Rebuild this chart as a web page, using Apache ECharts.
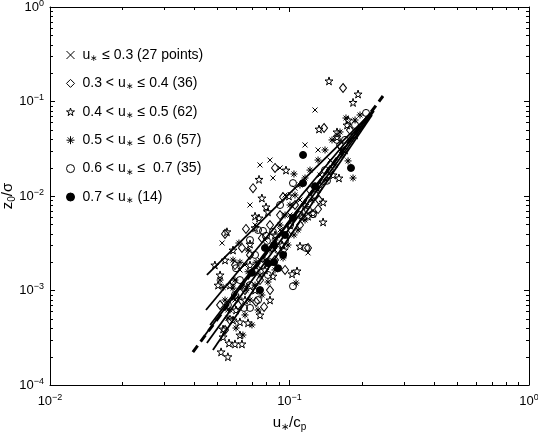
<!DOCTYPE html>
<html><head><meta charset="utf-8">
<script src="https://cdn.jsdelivr.net/npm/echarts@6/dist/echarts.min.js"></script>
<style>html,body{margin:0;padding:0;background:#fff}#c{width:538px;height:434px}</style>
</head><body><div id="c"></div>
<script>
// axis ranges and tick values
const xMin = 0.01, xMax = 1, yMin = 1e-4, yMax = 1;
const minorMult = [2, 3, 4, 5, 6, 7, 8, 9];
const xDecades = [0.01, 0.1];
const yDecades = [1e-4, 1e-3, 1e-2, 1e-1];

// legend labels
const groupNames = ['g1', 'g2', 'g3', 'g4', 'g5', 'g6'];
const groupLabels = [
  '{t|u}{st|∗}{t| ≤ 0.3 (27 points)}',
  '{t|0.3 < u}{st|∗}{t| ≤ 0.4 (36)}',
  '{t|0.4 < u}{st|∗}{t| ≤ 0.5 (62)}',
  '{t|0.5 < u}{st|∗}{t| ≤  0.6 (57)}',
  '{t|0.6 < u}{st|∗}{t| ≤  0.7 (35)}',
  '{t|0.7 < u}{st|∗}{t| (14)}'
];

// u* <= 0.3  (crosses)
const crossPts = [
  [0.1278,0.0813],[0.1161,0.0347],[0.1316,0.0307],[0.0753,0.0213],[0.0829,0.0240],
  [0.0913,0.0198],[0.0853,0.0155],[0.0684,0.00803],[0.0523,0.00318],[0.1195,0.00250],
  [0.0718,0.00493],[0.0790,0.00342],[0.0621,0.00165],[0.0671,0.00114],[0.0592,0.000793],
  [0.0753,0.00210],[0.0913,0.00437],[0.1005,0.00629],[0.1106,0.00907],[0.1476,0.0240],
  [0.1625,0.0307],[0.0553,0.000622],[0.0652,0.00186],[0.0870,0.00268],[0.0958,0.01024],
  [0.1054,0.0121],[0.1341,0.0167]
];
// 0.3 < u* <= 0.4 (diamonds)
const diamondPts = [
  [0.1673,0.139],[0.1394,0.0524],[0.0870,0.0198],[0.0704,0.0121],[0.0940,0.00975],
  [0.1328,0.00907],[0.1316,0.00728],[0.0538,0.00397],[0.0658,0.00448],[0.0513,0.000702],
  [0.0783,0.000670],[0.0725,0.000757],[0.1195,0.00282],[0.0592,0.00186],[0.0684,0.00238],
  [0.0829,0.00493],[0.0913,0.00629],[0.1054,0.00803],[0.0753,0.00129],[0.0652,0.00101],
  [0.0564,0.000487],[0.0718,0.00165],[0.0870,0.00210],[0.0986,0.00387],[0.1106,0.00493],
  [0.1218,0.01156],[0.1476,0.0188],[0.1625,0.0347],[0.1789,0.0499],[0.0581,0.00123],
  [0.0633,0.00282],[0.0767,0.00358],[0.0829,0.00101],[0.0958,0.00165],[0.0538,0.000382],
  [0.0610,0.000702]
];
// 0.4 < u* <= 0.5 (stars)
const starPts = [
  [0.1462,0.165],[0.1933,0.120],[0.1842,0.0978],[0.1756,0.0637],[0.1739,0.0564],
  [0.1328,0.0511],[0.1579,0.0476],[0.1579,0.0421],[0.0967,0.0188],[0.0746,0.0150],
  [0.1520,0.0167],[0.1609,0.0155],[0.0767,0.00952],[0.0798,0.00766],[0.0813,0.00680],
  [0.0995,0.00999],[0.1381,0.00862],[0.1128,0.00598],[0.1195,0.00611],[0.1254,0.00660],
  [0.1381,0.00531],[0.0718,0.00611],[0.0746,0.00585],[0.0548,0.00418],[0.0718,0.00461],
  [0.0581,0.00268],[0.0684,0.00310],[0.0931,0.00303],[0.0949,0.00268],[0.1106,0.00295],
  [0.1025,0.00150],[0.1075,0.00161],[0.0853,0.00142],[0.0518,0.000224],[0.0553,0.000199],
  [0.0559,0.000278],[0.0592,0.000272],[0.0633,0.000272],[0.0528,0.000323],[0.0528,0.000391],
  [0.0581,0.000487],[0.0621,0.000465],[0.0671,0.000455],[0.0488,0.00186],[0.0513,0.00146],
  [0.0538,0.00210],[0.0564,0.00114],[0.0652,0.000793],[0.0718,0.00101],[0.0790,0.00165],
  [0.0870,0.00387],[0.1005,0.00493],[0.1161,0.00803],[0.1341,0.01307],[0.1705,0.0307],
  [0.1878,0.0442],[0.0503,0.00114],[0.0598,0.000622],[0.0753,0.000551],[0.0829,0.000793],
  [0.0684,0.00186],[0.0621,0.000338]
];
// 0.5 < u* <= 0.6 (asterisks)
const asteriskPts = [
  [0.1756,0.0235],[0.1842,0.0155],[0.1044,0.0171],[0.1044,0.00387],[0.0581,0.00210],
  [0.0621,0.00199],[0.0513,0.00129],[0.0528,0.00108],[0.0581,0.00106],[0.0615,0.000833],
  [0.0592,0.00129],[0.0671,0.00268],[0.0615,0.00318],[0.1065,0.00120],[0.1721,0.0669],
  [0.0538,0.000793],[0.0564,0.000622],[0.0652,0.000551],[0.0684,0.000793],[0.0718,0.00114],
  [0.0753,0.00146],[0.0790,0.00210],[0.0829,0.00268],[0.0870,0.00342],[0.0913,0.00493],
  [0.0958,0.00629],[0.1005,0.00803],[0.1054,0.01024],[0.1106,0.01307],[0.1161,0.0155],
  [0.1218,0.0188],[0.1316,0.0240],[0.1407,0.0307],[0.1505,0.0392],[0.1625,0.0476],
  [0.1878,0.0637],[0.1970,0.0720],[0.0553,0.000510],[0.0598,0.000401],[0.0639,0.000338],
  [0.0697,0.000432],[0.0739,0.000622],[0.0767,0.000896],[0.0813,0.00123],[0.0870,0.00165],
  [0.0940,0.00221],[0.0986,0.00303],[0.1085,0.00437],[0.1161,0.00557],[0.1242,0.00907],
  [0.1316,0.01156],[0.1421,0.01476],[0.1549,0.0213],[0.1657,0.0272],[0.0671,0.00158],
  [0.0725,0.00199],[0.0658,0.00101]
];
// 0.6 < u* <= 0.7 (open circles)
const openPts = [
  [0.2087,0.0757],[0.1579,0.0392],[0.1034,0.0137],[0.1434,0.0145],[0.0775,0.00427],
  [0.0739,0.00437],[0.0798,0.00379],[0.0805,0.00335],[0.0853,0.00418],[0.0646,0.000654],
  [0.0684,0.000654],[0.1195,0.00711],[0.1254,0.00642],[0.1034,0.00111],[0.1172,0.00282],
  [0.0684,0.00342],[0.0718,0.00238],[0.0767,0.00186],[0.0829,0.00199],[0.0896,0.00268],
  [0.0958,0.00342],[0.1005,0.00493],[0.1106,0.00629],[0.1278,0.01024],[0.1407,0.0188],
  [0.1705,0.0392],[0.0621,0.00129],[0.0684,0.00114],[0.0739,0.000793],[0.0592,0.000896],
  [0.0553,0.000702],[0.0813,0.00146],[0.0913,0.00803],[0.0598,0.00172],[0.1878,0.0564]
];
// 0.7 < u* (filled circles)
const filledPts = [
  [0.1139,0.0272],[0.1806,0.0198],[0.1139,0.0137],[0.1278,0.0127],[0.0790,0.00282],
  [0.0862,0.00303],[0.0896,0.00172],[0.0697,0.00154],[0.0753,0.00101],[0.0862,0.00199],
  [0.0813,0.00194],[0.1034,0.00585],[0.0958,0.00387],[0.0940,0.00238]
];

// fitted lines (end points)
const fit1 = [[0.0452,0.00146],[0.2128,0.0702]];
const fit2 = [[0.0448,0.000622],[0.2169,0.0755]];
const fit3 = [[0.0466,0.000431],[0.2211,0.0774]];
const fit4 = [[0.0444,0.000338],[0.2232,0.0813]];
const fit5 = [[0.0452,0.000278],[0.2253,0.0793]];
const fit6 = [[0.0479,0.000235],[0.2211,0.0720]];
const dashedFit = [[0.0395,0.000223],[0.2457,0.1143]];

const FONT = '"Liberation Sans", Arial, Helvetica, sans-serif';
const chart = echarts.init(document.getElementById('c'), null, {renderer: 'canvas'});

function expLabel(v) {
  const e = Math.round(Math.log10(v));
  return '{b|10}{s|' + (e < 0 ? '\u2212' + (-e) : String(e)) + '}';
}
const labelRich = {
  b: {fontSize: 13, fontFamily: FONT, color: '#000', lineHeight: 16},
  s: {fontSize: 9, fontFamily: FONT, color: '#000', verticalAlign: 'top'}
};
const nameRich = {
  i: {fontSize: 15, fontFamily: FONT, color: '#000', lineHeight: 18},
  sub: {fontSize: 10, fontFamily: FONT, color: '#000', verticalAlign: 'bottom'}
};

const hollow = 'rgba(255,255,255,0)';
const starPath = 'path://M50,0L61,35L98,35L68,57L79,91L50,70L21,91L32,57L2,35L39,35Z';
const crossPath = 'path://M0,0L10,10M10,0L0,10';
const astPath = 'path://M5,0L5,10M0,5L10,5M1.5,1.5L8.5,8.5M8.5,1.5L1.5,8.5';

const scatterDefs = [
  {data: crossPts, symbol: crossPath, size: 5, fill: hollow},
  {data: diamondPts, symbol: 'diamond', size: [7, 9], fill: hollow},
  {data: starPts, symbol: starPath, size: 8, fill: hollow},
  {data: asteriskPts, symbol: astPath, size: 7, fill: hollow},
  {data: openPts, symbol: 'circle', size: 7, fill: hollow},
  {data: filledPts, symbol: 'circle', size: 7, fill: '#000'}
];

const series = scatterDefs.map((d, i) => ({
  name: groupNames[i], type: 'scatter', data: d.data, symbol: d.symbol, symbolSize: d.size,
  itemStyle: {color: d.fill, borderColor: '#000', borderWidth: 1, opacity: 1},
  emphasis: {disabled: true}, z: 3
}));

[fit1, fit2, fit3, fit4, fit5, fit6].forEach((f) => {
  series.push({type: 'line', data: f, symbol: 'none', silent: true, z: 4,
    lineStyle: {color: '#000', width: 1.8}});
});
series.push({type: 'line', data: dashedFit, symbol: 'none', silent: true, z: 4,
  lineStyle: {color: '#000', width: 3, type: [8, 5]}});

const minorXs = [];
xDecades.forEach(d => minorMult.forEach(m => minorXs.push(d * m)));
const minorYs = [];
yDecades.forEach(d => minorMult.forEach(m => minorYs.push(d * m)));

function seg(x1, y1, x2, y2) {
  return {type: 'line', shape: {x1: x1, y1: y1, x2: x2, y2: y2}, style: {stroke: '#000', lineWidth: 1}};
}
series.push({
  type: 'custom', silent: true, clip: false, z: 6, data: [[0.1, 0.01]],
  renderItem: function (params, api) {
    const cs = params.coordSys;
    const L = cs.x, T = cs.y, R = cs.x + cs.width, B = cs.y + cs.height;
    const ch = [];
    minorXs.forEach(v => {
      const p = Math.round(api.coord([v, yMin])[0]) + 0.5;
      ch.push(seg(p, B, p, B - 3), seg(p, T, p, T + 3));
    });
    minorYs.forEach(v => {
      const p = Math.round(api.coord([xMin, v])[1]) + 0.5;
      ch.push(seg(L, p, L + 3, p), seg(R, p, R - 3, p));
    });
    return {type: 'group', children: ch};
  }
});

const axisCommon = {
  type: 'log', logBase: 10,
  axisLine: {show: true, onZero: false, lineStyle: {color: '#000', width: 1}},
  axisTick: {show: true, inside: true, length: 5, lineStyle: {color: '#000'}},
  splitLine: {show: false}, minorTick: {show: false}
};

chart.setOption({
  animation: false,
  backgroundColor: '#fff',
  grid: {left: 50, right: 9, top: 7, bottom: 49, containLabel: false, outerBoundsMode: 'none'},
  legend: {
    data: groupNames.map((n, i) => ({
      name: n,
      itemStyle: {color: scatterDefs[i].fill, borderColor: '#000', borderWidth: 1}
    })),
    orient: 'vertical', left: 61, top: 43,
    itemWidth: 8, itemHeight: 8, itemGap: 13.4, selectedMode: false,
    formatter: function (n) { return groupLabels[groupNames.indexOf(n)]; },
    textStyle: {
      fontSize: 14, fontFamily: FONT, color: '#000', padding: [0, 0, 0, 3],
      rich: {
        t: {fontSize: 14, fontFamily: FONT, color: '#000', lineHeight: 16},
        st: {fontSize: 9, fontFamily: FONT, color: '#000', verticalAlign: 'bottom'}
      }
    }
  },
  xAxis: [
    Object.assign({}, axisCommon, {
      min: xMin, max: xMax, position: 'bottom',
      axisLabel: {margin: 8, formatter: expLabel, rich: labelRich,
        alignMinLabel: 'center', alignMaxLabel: 'center'},
      name: '{i|u}{sub|∗}{i|/c}{sub|p}', nameLocation: 'middle', nameGap: 29,
      nameMoveOverlap: false,
      nameTextStyle: {rich: nameRich}
    }),
    Object.assign({}, axisCommon, {min: xMin, max: xMax, position: 'top', axisLabel: {show: false}})
  ],
  yAxis: [
    Object.assign({}, axisCommon, {
      min: yMin, max: yMax, position: 'left',
      axisLabel: {margin: 6, formatter: expLabel, rich: labelRich,
        verticalAlignMinLabel: 'middle', verticalAlignMaxLabel: 'middle'},
      name: '{i|z}{sub|0}{i|/σ}', nameLocation: 'middle', nameGap: 33, nameRotate: 90,
      nameMoveOverlap: false,
      nameTextStyle: {rich: nameRich}
    }),
    Object.assign({}, axisCommon, {min: yMin, max: yMax, position: 'right', axisLabel: {show: false}})
  ],
  series: series
});
</script>
</body></html>
